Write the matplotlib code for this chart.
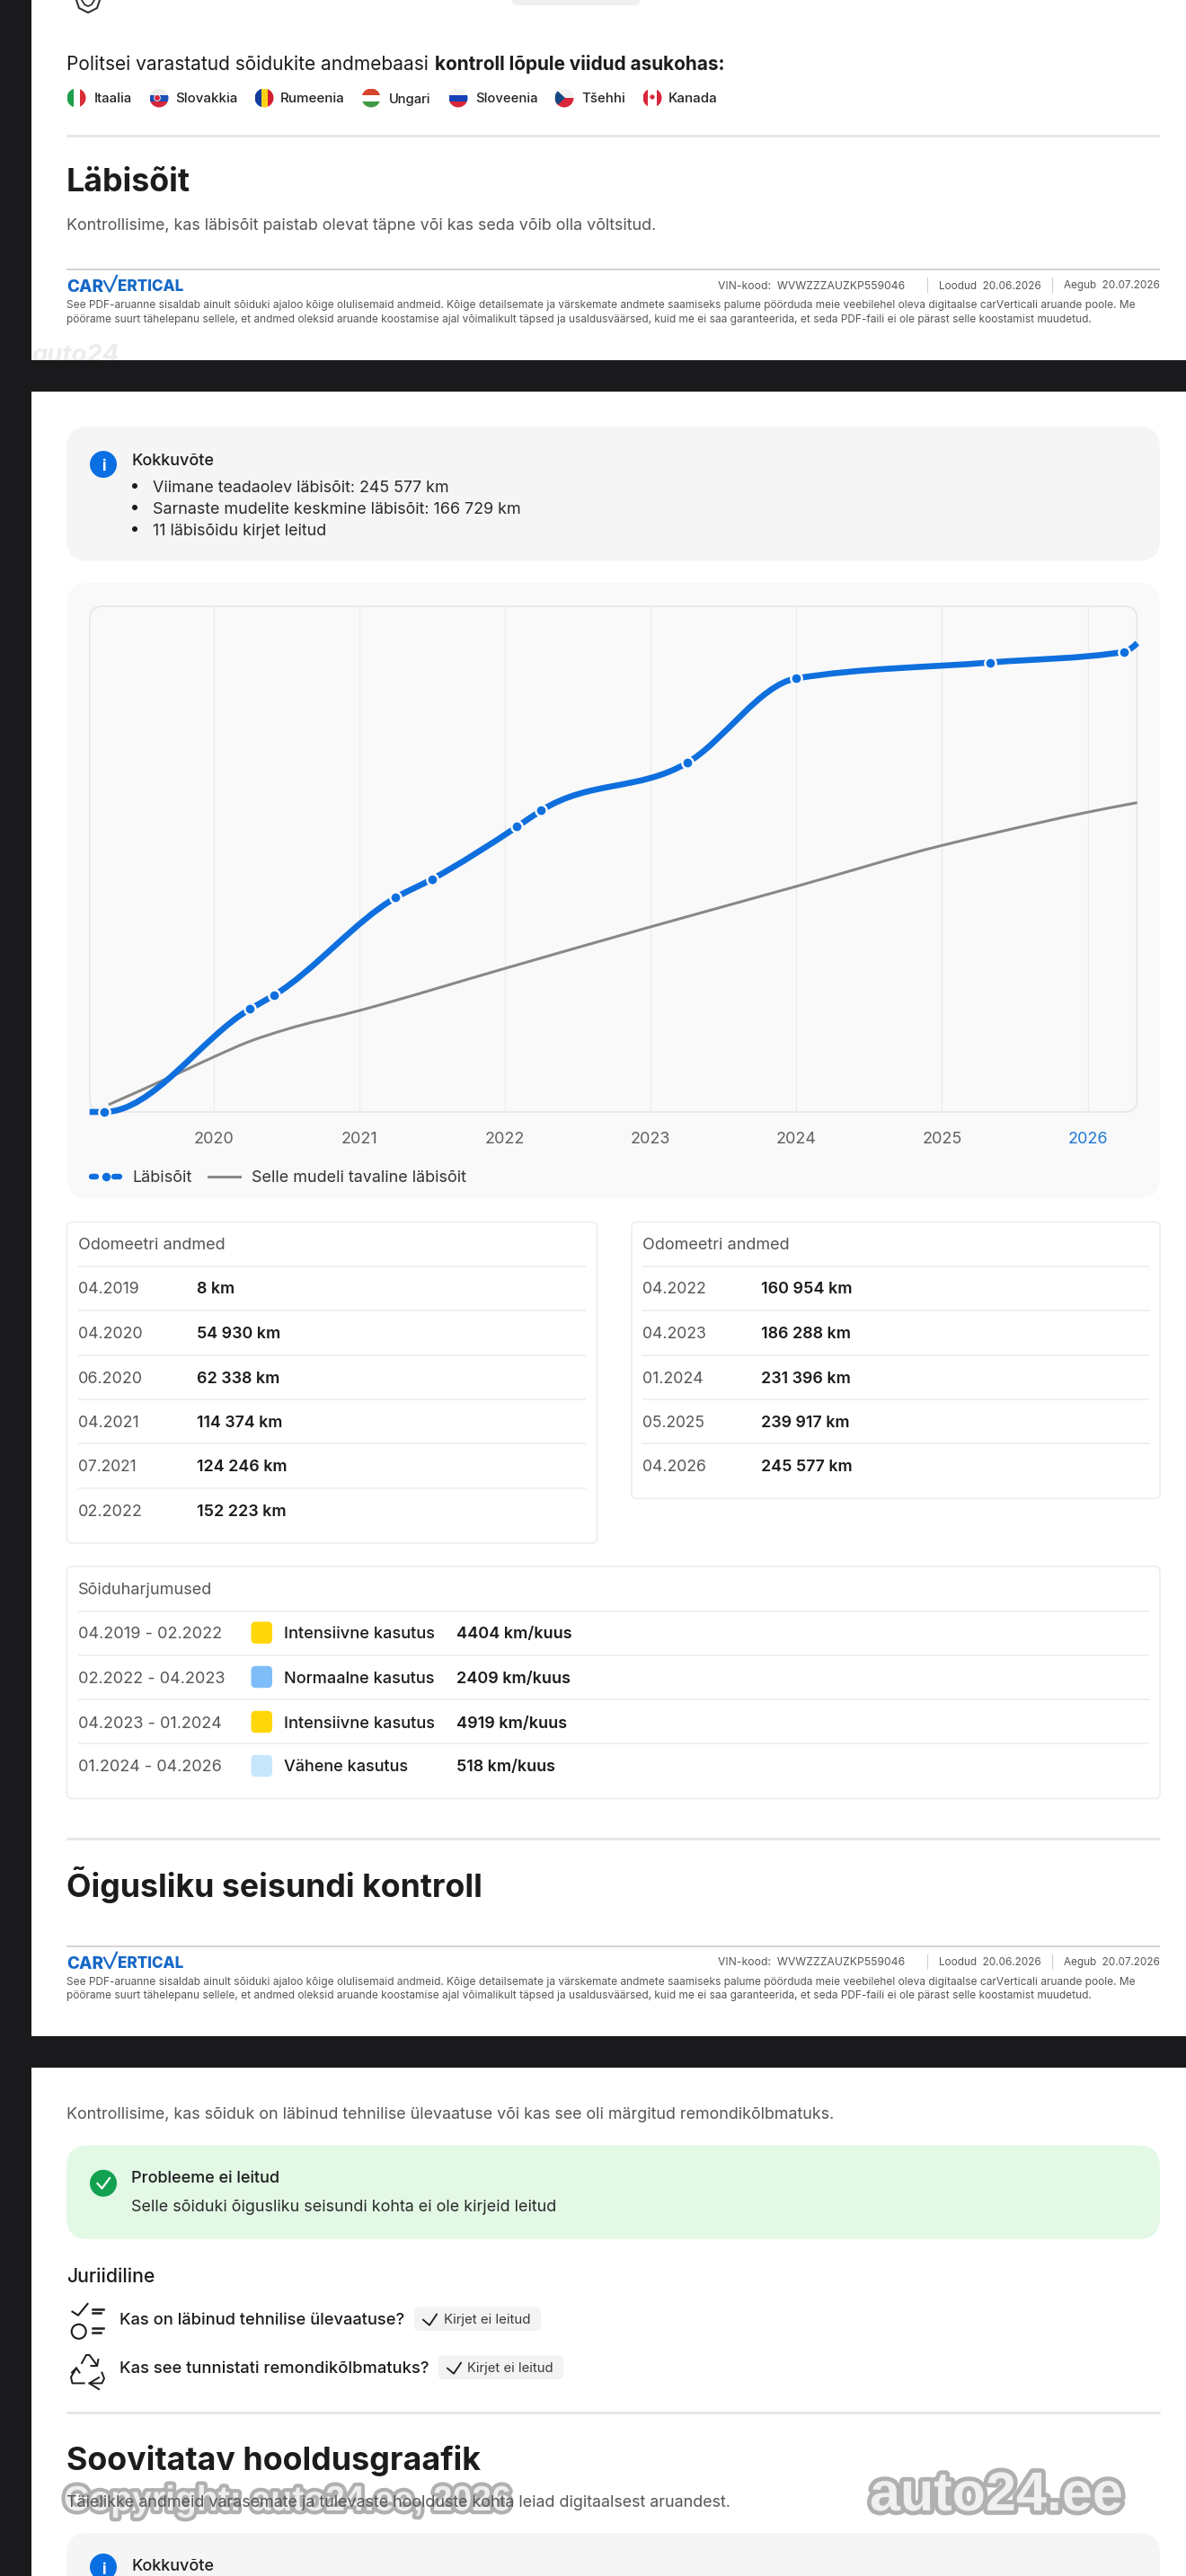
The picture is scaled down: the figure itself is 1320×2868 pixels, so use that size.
import numpy as np
import matplotlib
matplotlib.use("Agg")
import matplotlib.pyplot as plt
from matplotlib.patches import FancyBboxPatch, Circle, Rectangle, Polygon
from matplotlib.path import Path
from matplotlib.patches import PathPatch
import matplotlib.patheffects as pe

plt.rcParams['font.family'] = ['Inter', 'DejaVu Sans']

# ---- chart data ----
odo_dates = ["04.2019", "04.2020", "06.2020", "04.2021", "07.2021", "02.2022",
             "04.2022", "04.2023", "01.2024", "05.2025", "04.2026"]
odo_km = [8, 54930, 62338, 114374, 124246, 152223, 160954, 186288, 231396, 239917, 245577]
odo_labels = ["8 km", "54 930 km", "62 338 km", "114 374 km", "124 246 km", "152 223 km",
              "160 954 km", "186 288 km", "231 396 km", "239 917 km", "245 577 km"]
line_start = (2019.15, 8)
line_end = (2026.34, 250270)
typ_years = [2019.28, 2019.75, 2020.0, 2020.24, 2020.49, 2021, 2022, 2023, 2024, 2025, 2025.35, 2026, 2026.34]
typ_km = [3850, 20300, 29300, 37400, 43850, 54100, 76600, 98800, 120400, 142250, 148700, 160000, 165100]
tick_years = [2020, 2021, 2022, 2023, 2024, 2025, 2026]
habit_periods = ["04.2019 - 02.2022", "02.2022 - 04.2023", "04.2023 - 01.2024", "01.2024 - 04.2026"]
habit_names = ["Intensiivne kasutus", "Normaalne kasutus", "Intensiivne kasutus", "Vähene kasutus"]
habit_rates = ["4404 km/kuus", "2409 km/kuus", "4919 km/kuus", "518 km/kuus"]
habit_colors = ["#FFD60A", "#7FBDF8", "#FFD60A", "#C6E6FB"]
countries = ["Itaalia", "Slovakkia", "Rumeenia", "Ungari", "Sloveenia", "Tšehhi", "Kanada"]

W, H = 1320, 2868
fig = plt.figure(figsize=(W / 100, H / 100), dpi=100, facecolor="white")
ax = fig.add_axes([0, 0, 1, 1])
ax.set_xlim(0, W)
ax.set_ylim(H, 0)
ax.axis("off")
renderer = fig.canvas.get_renderer()

DARK = "#1A1A1C"
INK = "#1c1c1e"
GREY = "#55565a"
BLUE = "#0E6FDD"


def T(x, y, s, px=18, weight="normal", color=INK, ha="left", xe=None, **kw):
    t = ax.text(x, y, s, fontsize=px * 0.72, fontweight=weight, color=color,
                ha=ha, va="center_baseline", **kw)
    if xe is not None:
        w = t.get_window_extent(renderer).width
        t.set_fontsize(px * 0.72 * (xe - x) / w)
    return t


def box(x0, y0, x1, y1, r, fc, ec="none", lw=0, z=1):
    p = FancyBboxPatch((x0 + r, y0 + r), x1 - x0 - 2 * r, y1 - y0 - 2 * r,
                       boxstyle=f"round,pad={r},rounding_size={r}", fc=fc, ec=ec, lw=lw, zorder=z)
    ax.add_patch(p)
    return p


def rule(x0, x1, y, c="#e7e7e7", lw=3):
    ax.plot([x0, x1], [y, y], color=c, lw=lw * 0.72, solid_capstyle="butt", zorder=2)


def flag(cx, cy, colors, vertical, r=10.5):
    clip = Circle((cx, cy), r, transform=ax.transData)
    n = len(colors)
    for i, c in enumerate(colors):
        if vertical:
            p = Rectangle((cx - r + 2 * r * i / n, cy - r), 2 * r / n, 2 * r, fc=c, ec="none", zorder=3)
        else:
            p = Rectangle((cx - r, cy - r + 2 * r * i / n), 2 * r, 2 * r / n, fc=c, ec="none", zorder=3)
        ax.add_patch(p)
        p.set_clip_path(clip)
    return clip


def footer(ytop):
    logo = "#1668C7"
    rule(74, 1291, ytop, "#d4d4d6", 2)
    T(74, ytop + 18, "CAR", 18, "heavy", logo, xe=115)
    ax.plot([116, 122, 130], [ytop + 13, ytop + 25, ytop + 7], color=logo, lw=1.6, solid_joinstyle="miter")
    T(130.5, ytop + 18, "ERTICAL", 18, "heavy", logo, xe=204)
    T(799, ytop + 17, "VIN-kood:  WVWZZZAUZKP559046", 11.5, color=GREY, xe=1006)
    ax.plot([1032, 1032], [ytop + 9, ytop + 25], color="#cfcfcf", lw=0.8)
    T(1045, ytop + 17, "Loodud  20.06.2026", 11.5, color=GREY, xe=1158)
    ax.plot([1171, 1171], [ytop + 9, ytop + 25], color="#cfcfcf", lw=0.8)
    T(1184, ytop + 17, "Aegub  20.07.2026", 11.5, color=GREY, xe=1290)
    T(74, ytop + 39, "See PDF-aruanne sisaldab ainult sõiduki ajaloo kõige olulisemaid andmeid. Kõige detailsemate ja värskemate andmete saamiseks palume pöörduda meie veebilehel oleva digitaalse carVerticali aruande poole. Me",
      11, color=GREY, xe=1267)
    T(74, ytop + 54, "pöörame suurt tähelepanu sellele, et andmed oleksid aruande koostamise ajal võimalikult täpsed ja usaldusväärsed, kuid me ei saa garanteerida, et seda PDF-faili ei ole pärast selle koostamist muudetud.",
      11, color=GREY, xe=1219)


def info(cx, cy):
    ax.add_patch(Circle((cx, cy), 15, fc="#0B6FE4", ec="none", zorder=3))
    T(cx, cy + 1, "i", 17, "bold", "white", ha="center", zorder=4)


# ---- page bands ----
ax.add_patch(Rectangle((0, 0), 35, H, fc=DARK, ec="none", zorder=10))
ax.add_patch(Rectangle((0, 401), W, 35, fc=DARK, ec="none", zorder=10))
ax.add_patch(Rectangle((0, 2267), W, 35, fc=DARK, ec="none", zorder=10))

# ---- top section ----
box(570, -10, 712, 6, 5, "#efefef")
ax.plot([85, 88, 98, 108, 111], [0, 9, 14, 9, 0], color="#333333", lw=1.5)
ax.plot([91, 94, 98, 102, 105], [0, 5, 7, 5, 0], color="#333333", lw=1.3)
T(74, 70, "Politsei varastatud sõidukite andmebaasi", 24, color=INK, xe=478)
T(484, 70, "kontroll lõpule viidud asukohas:", 24, "bold", INK, xe=807)

flag_x = [85, 177, 294, 413, 510, 628, 726]
label_x = [104.5, 195, 312, 433, 529, 647, 744]
label_e = [147, 264.5, 384, 480, 598.5, 696, 799]
flag_colors = [(["#1E9E4A", "#ffffff", "#D92B34"], True),
               (["#eeeeee", "#1B4FB5", "#D8263B"], False),
               (["#123C9C", "#FCD116", "#D21F32"], True),
               (["#D8432F", "#ffffff", "#3E9A43"], False),
               (["#f2f2f2", "#1740B8", "#D8263B"], False),
               (["#f4f4f4", "#D8263B"], False),
               (["#D8263B", "#ffffff", "#ffffff", "#D8263B"], True)]
for fx, lx, le, name, (cols, vert) in zip(flag_x, label_x, label_e, countries, flag_colors):
    clip = flag(fx, 109, cols, vert)
    T(lx, 109, name, 15, "medium", "#222222", xe=le)
    if name == "Tšehhi":
        tri = Polygon([(fx - 10.5, 98.5), (fx + 1, 109), (fx - 10.5, 119.5)], fc="#14477E", ec="none", zorder=3)
        ax.add_patch(tri)
        tri.set_clip_path(clip)
    if name == "Kanada":
        ax.add_patch(Circle((fx, 108), 2.6, fc="#D8263B", ec="none", zorder=4))
    if name == "Slovakkia":
        ax.add_patch(Circle((fx - 2, 109), 3.4, fc="#D8263B", ec="white", lw=0.6, zorder=4))

rule(74, 1291, 151)
T(74, 200, "Läbisõit", 38, "bold", INK, xe=212)
T(74, 249, "Kontrollisime, kas läbisõit paistab olevat täpne või kas seda võib olla võltsitud.", 18, color=GREY, xe=733)
footer(300)
T(36, 393, "auto24", 30, "bold", "#ececec", style="italic", zorder=5, xe=133)

# ---- summary box ----
box(74, 475, 1291, 624.5, 24, "#F5F5F6")
info(115, 517)
T(146, 511, "Kokkuvõte", 18, "medium", INK, xe=238)
summary_lines = ["Viimane teadaolev läbisõit: 245 577 km", "Sarnaste mudelite keskmine läbisõit: 166 729 km", "11 läbisõidu kirjet leitud"]
for yy, s, e in zip([541, 565, 589], summary_lines, [501, 581, 364]):
    ax.add_patch(Circle((150, yy), 3, fc=INK, ec="none", zorder=3))
    T(170, yy, s, 18, color="#2a2a2c", xe=e)

# ---- chart panel ----
box(74.5, 649, 1291, 1334, 24, "#F9F9FA", z=1)
box(100, 675, 1265.5, 1238, 14, "#F9F9FA", "#E6E6E8", 1.2, z=2)
for lab_x, s, e in [(147, "Läbisõit", 213), (279.5, "Selle mudeli tavaline läbisõit", 518)]:
    T(lab_x, 1310, s, 17, color="#333336", xe=e)
ax.plot([102, 107], [1310, 1310], color=BLUE, lw=4.6, solid_capstyle="round", zorder=3)
ax.plot([127, 133], [1310, 1310], color=BLUE, lw=4.6, solid_capstyle="round", zorder=3)
ax.plot([117.5], [1310], "o", ms=6.8, mfc=BLUE, mec="none", zorder=4)
ax.plot([232, 267], [1310, 1310], color="#8a8a8a", lw=2.2, zorder=3)

PX0, PX1, PY0, PY1 = 100, 1265.5, 675, 1238
cax = fig.add_axes([PX0 / W, 1 - PY1 / H, (PX1 - PX0) / W, (PY1 - PY0) / H], facecolor="none")
x_min, x_max = 2020 - (237.6 - PX0) / 162.2, 2026 + (PX1 - 1210.6) / 162.2
cax.set_xlim(x_min, x_max)
cax.set_ylim(0, 269900)
for sp in cax.spines.values():
    sp.set_visible(False)
cax.set_yticks([])
cax.set_xticks(tick_years)
cax.set_xticklabels([str(y) for y in tick_years], fontsize=18 * 0.72, color="#5f6064")
cax.get_xticklabels()[-1].set_color("#1E78D2")
cax.tick_params(axis="x", length=0, pad=15.5)
cax.grid(axis="x", color="#EBEBED", lw=0.8)
cax.set_axisbelow(True)


def year_of(d):
    m, y = d.split(".")
    return int(y) + (int(m) - 1) / 12


def monotone_path(xs, ys):
    """Monotone cubic (d3 curveMonotoneX) through the data."""
    x = np.asarray(xs, float)
    y = np.asarray(ys, float)
    h = np.diff(x)
    s = np.diff(y) / h
    n = len(x)
    m = np.zeros(n)
    for i in range(1, n - 1):
        p = (s[i - 1] * h[i] + s[i] * h[i - 1]) / (h[i - 1] + h[i])
        m[i] = (np.sign(s[i - 1]) + np.sign(s[i])) * min(abs(s[i - 1]), abs(s[i]), 0.5 * abs(p))
    m[0] = (3 * s[0] - m[1]) / 2
    m[-1] = (3 * s[-1] - m[-2]) / 2
    verts = [(x[0], y[0])]
    codes = [Path.MOVETO]
    for i in range(n - 1):
        verts += [(x[i] + h[i] / 3, y[i] + m[i] * h[i] / 3),
                  (x[i + 1] - h[i] / 3, y[i + 1] - m[i + 1] * h[i] / 3),
                  (x[i + 1], y[i + 1])]
        codes += [Path.CURVE4] * 3
    return Path(verts, codes)


odo_x = [year_of(d) for d in odo_dates]
blue_x = [line_start[0]] + odo_x + [line_end[0]]
blue_y = [line_start[1]] + odo_km + [line_end[1]]
cax.add_patch(PathPatch(monotone_path(typ_years, typ_km), fc="none", ec="#888888", lw=2.2, zorder=3, capstyle="butt"))
blue_patch = PathPatch(monotone_path(blue_x, blue_y), fc="none", ec=BLUE, lw=4.8, zorder=4, capstyle="butt")
blue_patch.set_clip_on(False)
cax.add_patch(blue_patch)
cax.plot(odo_x, odo_km, "o", ms=8.8, mfc=BLUE, mec="#F9F9FA", mew=1.8, zorder=5, clip_on=False)

# ---- odometer cards ----
row_y = [1434, 1484, 1533, 1582.4, 1632, 1681.5]
rule_y = [1410, 1459, 1509, 1558, 1607, 1656.5]
left_date_end = [155, 159, 159, 155, 152, 159]
left_val_end = [261, 312, 311.6, 314, 319, 318]
right_date_end = [786, 786, 783, 784, 786]
right_val_end = [948, 947, 946.5, 945, 948]


def card(x0, y0, x1, y1):
    box(x0, y0, x1, y1, 6, "white", "#EDEDEF", 1.2, z=1)


card(74.5, 1360.5, 664.5, 1718)
card(703, 1360.5, 1291, 1668.6)
T(87, 1384.6, "Odomeetri andmed", 17, color=GREY, xe=250.5)
T(715, 1384.6, "Odomeetri andmed", 17, color=GREY, xe=878.5)
for i in range(6):
    rule(87, 652, rule_y[i], "#F0F0F1", 2)
    T(87, row_y[i], odo_dates[i], 17.5, color=GREY, xe=left_date_end[i])
    T(219, row_y[i], odo_labels[i], 17.5, "semibold", INK, xe=left_val_end[i])
for i in range(5):
    rule(715, 1279, rule_y[i], "#F0F0F1", 2)
    T(715, row_y[i], odo_dates[i + 6], 17.5, color=GREY, xe=right_date_end[i])
    T(847, row_y[i], odo_labels[i + 6], 17.5, "semibold", INK, xe=right_val_end[i])

# ---- driving habits ----
card(74.5, 1744, 1291, 2002.5)
T(87, 1768.6, "Sõiduharjumused", 17, color=GREY, xe=236)
h_rule = [1793.6, 1842.7, 1892, 1941]
h_row = [1817.7, 1867, 1917, 1966]
per_end = [247, 251, 247, 247]
name_end = [483, 483, 483, 454]
rate_end = [635.6, 634, 630, 617]
for i, (ry, yy, per, name, rate, col) in enumerate(zip(h_rule, h_row, habit_periods, habit_names, habit_rates, habit_colors)):
    rule(87, 1279, ry, "#F0F0F1", 2)
    T(87, yy, per, 17.5, color=GREY, xe=per_end[i])
    box(279.5, yy - 12.2, 303, yy + 12.2, 5, col, z=3)
    T(315.6, yy, name, 17.5, "medium", INK, xe=name_end[i])
    T(507.7, yy, rate, 17.5, "semibold", INK, xe=rate_end[i])

rule(74, 1291, 2047)
T(74, 2095.4, "Õigusliku seisundi kontroll", 38, "bold", INK, xe=537)
footer(2166.7)

# ---- legal section ----
T(74, 2352.6, "Kontrollisime, kas sõiduk on läbinud tehnilise ülevaatuse või kas see oli märgitud remondikõlbmatuks.", 18, color=GREY, xe=931)
box(74, 2388.5, 1291, 2493, 24, "#E3F9E5")
ax.add_patch(Circle((115, 2430.7), 15, fc="#12A150", ec="none", zorder=3))
ax.plot([108.5, 113.5, 122], [2431, 2436.5, 2425], color="white", lw=1.6, zorder=4)
T(146, 2424, "Probleeme ei leitud", 18, "medium", INK, xe=311)
T(146, 2456, "Selle sõiduki õigusliku seisundi kohta ei ole kirjeid leitud", 18, color="#2a2a2c", xe=619)
T(74, 2532.6, "Juriidiline", 23, "medium", INK, xe=172.5)

# checklist icon
ax.plot([80.5, 87, 97.5], [2573.7, 2577.8, 2565], color=INK, lw=1.5)
ax.plot([102.7, 115.3], [2571, 2571], color=INK, lw=1.8)
ax.plot([102.7, 112], [2575, 2575], color=INK, lw=1.8)
ax.add_patch(Circle((87.7, 2595.8), 8, fc="none", ec=INK, lw=1.5, zorder=3))
ax.plot([102.7, 115.3], [2592.4, 2592.4], color=INK, lw=1.8)
ax.plot([102.7, 112], [2596.8, 2596.8], color=INK, lw=1.8)
# recycle icon
ax.plot([91, 96, 99.5, 108], [2631, 2622, 2622, 2633.4], color=INK, lw=1.4)
ax.plot([101.5, 108, 109.4], [2634, 2634, 2627], color=INK, lw=1.4)
ax.plot([85, 79, 80.5, 93.6], [2636.4, 2646.6, 2653.4, 2653.4], color=INK, lw=1.4)
ax.plot([80, 85, 88.5], [2641.5, 2636.4, 2641.5], color=INK, lw=1.4)
ax.plot([113.4, 116, 113.4, 99.5], [2641.5, 2648, 2653.4, 2653.4], color=INK, lw=1.4)
ax.plot([110, 99.5, 110], [2647, 2653.4, 2660], color=INK, lw=1.4)

T(133, 2581.7, "Kas on läbinud tehnilise ülevaatuse?", 18, "medium", INK, xe=448.6)
T(133, 2635.6, "Kas see tunnistati remondikõlbmatuks?", 18, "medium", INK, xe=475)
for x0, x1, y0, y1, cx, tx, te in [(461, 602, 2568.5, 2595, 478, 494, 591), (488, 627, 2622.4, 2649, 505, 520, 616)]:
    mid = (y0 + y1) / 2
    box(x0, y0, x1, y1, 5, "#F3F3F4", z=2)
    ax.plot([cx - 7, cx, cx + 8], [mid + 1, mid + 7, mid - 5], color=INK, lw=1.3, zorder=3)
    T(tx, mid, "Kirjet ei leitud", 14.5, color="#3a3a3c", xe=te)

rule(74, 1291, 2686)
T(74, 2736, "Soovitatav hooldusgraafik", 38, "bold", INK, xe=534.5)
T(74, 2784.5, "Täielikke andmeid varasemate ja tulevaste hoolduste kohta leiad digitaalsest aruandest.", 18, color=GREY, xe=815, zorder=9)
box(74, 2820, 1291, 2900, 24, "#F5F5F6")
info(115, 2858)
T(146, 2856, "Kokkuvõte", 18, "medium", INK, xe=238)

# ---- watermarks ----
t = T(71, 2781, "Copyright: auto24.ee, 2026", 42, "bold", "#eeeeee", xe=568, zorder=8, family="Liberation Sans")
t.set_path_effects([pe.withStroke(linewidth=6, foreground="#b0b0b0")])
t = T(968, 2773, "auto24.ee", 80, "bold", "#f0f0f0", xe=1250, zorder=8, family="Liberation Sans")
t.set_path_effects([pe.withStroke(linewidth=7, foreground="#b0b0b0")])

fig.savefig("out.png", dpi=100, facecolor="white")
